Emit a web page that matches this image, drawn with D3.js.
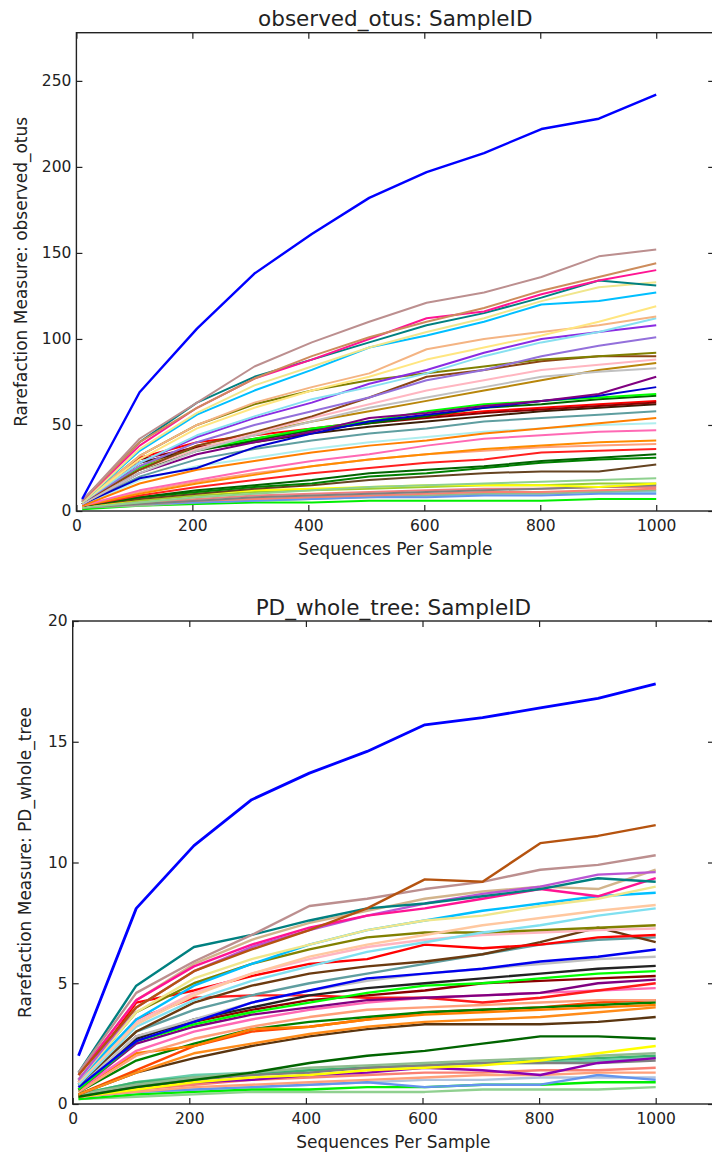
<!DOCTYPE html>
<html>
<head>
<meta charset="utf-8">
<script src="https://cdn.jsdelivr.net/npm/d3@7"></script>
<style>
  html, body { margin: 0; padding: 0; background: #fff; }
  svg { display: block; }
  text { font-family: "DejaVu Sans", sans-serif; fill: #222; }
</style>
</head>
<body>
<svg id="chart" width="712" height="1159"></svg>
<script>
// ---------- DATA ----------
const seqPerSample = [10, 109, 208, 307, 406, 505, 604, 703, 802, 901, 1000];

const otusTicksY = [0, 50, 100, 150, 200, 250];
const pdTicksY = [0, 5, 10, 15, 20];
const ticksX = [0, 200, 400, 600, 800, 1000];

const otusColors = [
  "#0000ff", "#bc8f8f", "#cd8c5c", "#ff1493", "#008080", "#f0e68c", "#00bfff", "#ffe680",
  "#f4b483", "#87e0f0", "#8a2be2", "#9370db", "#808000", "#8b4513", "#c0c0c0", "#ffb6c1",
  "#800080", "#0000cd", "#00ff00", "#006400", "#8b0000", "#ff0000", "#3b1e08", "#5f9ea0",
  "#ff7f00", "#afeeee", "#ff69b4", "#ff8c00", "#ff2020", "#ffa07a", "#006400", "#008000",
  "#654321", "#8fd18f", "#ffff00", "#808080", "#fa8072", "#6495ed", "#8fbc8f", "#00ee00",
  "#f08080", "#87ceeb", "#9acd32", "#b8860b"
];
const otusValues = [
  [7, 69, 106, 138, 161, 182, 197, 208, 222, 228, 242],
  [6, 42, 63, 84, 98, 110, 121, 127, 136, 148, 152],
  [6, 40, 60, 77, 90, 101, 110, 118, 128, 136, 144],
  [6, 38, 60, 77, 88, 100, 112, 116, 126, 134, 140],
  [6, 40, 63, 78, 88, 98, 108, 115, 124, 134, 131],
  [5, 36, 57, 73, 84, 95, 104, 112, 122, 130, 133],
  [5, 35, 56, 70, 82, 95, 102, 110, 120, 122, 127],
  [5, 30, 48, 60, 70, 78, 88, 95, 102, 110, 119],
  [5, 32, 50, 63, 72, 80, 94, 100, 104, 108, 113],
  [5, 28, 44, 55, 65, 72, 80, 90, 98, 104, 112],
  [5, 28, 43, 54, 63, 74, 82, 92, 100, 104, 108],
  [5, 26, 40, 50, 58, 66, 76, 82, 90, 96, 101],
  [5, 32, 50, 62, 70, 76, 80, 84, 88, 90, 92],
  [5, 24, 38, 46, 55, 66, 78, 82, 87, 90, 90],
  [4, 22, 35, 44, 52, 60, 66, 72, 78, 81, 83],
  [4, 24, 36, 45, 54, 62, 70, 76, 82, 85, 88],
  [4, 22, 33, 40, 46, 54, 57, 61, 64, 68, 78],
  [4, 19, 25, 37, 45, 52, 56, 60, 64, 67, 72],
  [4, 25, 36, 42, 48, 52, 58, 62, 64, 66, 68],
  [4, 24, 35, 41, 47, 51, 55, 60, 62, 65, 67],
  [4, 30, 37, 42, 47, 51, 54, 57, 59, 61, 63],
  [4, 31, 40, 44, 48, 52, 55, 58, 60, 62, 64],
  [4, 28, 36, 40, 45, 49, 52, 55, 58, 60, 62],
  [4, 20, 30, 36, 41, 45, 48, 52, 54, 56, 58],
  [3, 16, 24, 29, 34, 38, 41, 45, 48, 51, 54],
  [3, 18, 26, 31, 36, 40, 43, 46, 48, 50, 51],
  [3, 12, 18, 24, 29, 33, 38, 42, 44, 46, 47],
  [3, 10, 16, 21, 26, 30, 33, 36, 38, 40, 41],
  [3, 9, 14, 18, 22, 25, 28, 30, 34, 35, 36],
  [3, 11, 17, 22, 26, 30, 33, 35, 37, 38, 39],
  [3, 8, 12, 15, 18, 22, 24, 26, 29, 31, 33],
  [3, 8, 11, 14, 16, 20, 22, 25, 28, 30, 31],
  [3, 7, 10, 13, 15, 18, 20, 22, 23, 23, 27],
  [2, 5, 8, 10, 12, 14, 15, 16, 17, 18, 19],
  [2, 7, 10, 12, 13, 14, 15, 15, 15, 14, 16],
  [2, 4, 6, 8, 9, 10, 11, 12, 13, 14, 15],
  [2, 4, 6, 7, 8, 9, 10, 11, 11, 12, 13],
  [2, 4, 5, 6, 7, 8, 8, 9, 9, 10, 10],
  [2, 3, 5, 6, 7, 8, 9, 10, 10, 11, 12],
  [1, 3, 4, 5, 5, 6, 6, 6, 6, 7, 7],
  [2, 5, 7, 9, 10, 11, 12, 13, 13, 14, 14],
  [2, 4, 6, 7, 8, 9, 9, 10, 11, 11, 11],
  [2, 6, 9, 11, 12, 13, 14, 15, 15, 16, 16],
  [4, 26, 38, 45, 52, 58, 64, 70, 76, 82, 86]
];

const pdColors = [
  "#0000ff", "#b5530f", "#bc8f8f", "#008080", "#ff1493", "#ba55d3", "#d2b48c", "#f0e68c",
  "#00bfff", "#ffc8a0", "#80e0f0", "#808000", "#ffb6c1", "#ff0000", "#6b3a10", "#5f9ea0",
  "#0000ee", "#c0c0c0", "#222222", "#00ff00", "#8b0000", "#800080", "#ff1a1a", "#ff69b4",
  "#ffa07a", "#ff7f00", "#008000", "#ff8c1a", "#5a3510", "#ff4500", "#006400", "#ffff00",
  "#8fbc8f", "#8b00b0", "#808080", "#3cb371", "#fa8072", "#ffa07a", "#6495ed", "#00ee00",
  "#90d090", "#b0c4de", "#66cdaa"
];
const pdValues = [
  [2.0, 8.1, 10.7, 12.6, 13.7, 14.6, 15.7, 16.0, 16.4, 16.8, 17.4],
  [1.2, 4.0, 5.5, 6.4, 7.2, 8.1, 9.3, 9.2, 10.8, 11.1, 11.55],
  [1.3, 4.6, 5.9, 7.0, 8.2, 8.5, 8.9, 9.2, 9.7, 9.9, 10.3],
  [1.3, 4.9, 6.5, 7.0, 7.6, 8.1, 8.3, 8.6, 8.9, 9.35, 9.2],
  [1.2, 4.3, 5.7, 6.6, 7.3, 7.8, 8.1, 8.5, 8.9, 8.6, 9.35],
  [1.0, 4.0, 5.5, 6.5, 7.2, 7.8, 8.3, 8.7, 9.0, 9.5, 9.6],
  [1.2, 4.3, 5.8, 6.8, 7.5, 8.0, 8.5, 8.8, 9.0, 8.9, 9.7],
  [1.0, 3.8, 5.2, 6.0, 6.6, 7.2, 7.6, 7.8, 8.2, 8.5, 9.0],
  [1.0, 3.5, 4.9, 5.8, 6.6, 7.2, 7.6, 8.0, 8.3, 8.6, 8.75],
  [0.9, 3.3, 4.5, 5.4, 6.1, 6.6, 7.0, 7.4, 7.7, 8.0, 8.24],
  [0.8, 3.2, 4.3, 5.1, 5.7, 6.3, 6.7, 7.1, 7.4, 7.8, 8.1],
  [1.0, 3.8, 5.0, 5.8, 6.4, 6.9, 7.1, 7.1, 7.2, 7.3, 7.4],
  [0.9, 3.4, 4.6, 5.4, 6.0, 6.5, 6.8, 7.0, 7.1, 7.2, 7.27],
  [0.9, 4.2, 4.7, 5.3, 5.8, 6.0, 6.6, 6.45, 6.6, 6.9, 7.0],
  [0.8, 3.0, 4.2, 4.9, 5.4, 5.7, 5.9, 6.2, 6.7, 7.3, 6.7],
  [0.8, 3.0, 3.9, 4.5, 5.0, 5.4, 5.8, 6.2, 6.6, 6.8, 6.9],
  [0.7, 2.6, 3.4, 4.2, 4.7, 5.2, 5.4, 5.6, 5.9, 6.1, 6.4],
  [0.7, 2.8, 3.5, 4.2, 4.7, 5.1, 5.4, 5.6, 5.8, 6.0, 6.1],
  [0.7, 2.7, 3.5, 4.0, 4.5, 4.8, 5.0, 5.2, 5.4, 5.6, 5.72],
  [0.6, 2.6, 3.3, 3.8, 4.2, 4.6, 4.9, 5.0, 5.2, 5.4, 5.5],
  [0.6, 2.8, 3.4, 3.9, 4.3, 4.5, 4.7, 5.0, 5.1, 5.2, 5.3],
  [0.6, 2.5, 3.2, 3.7, 4.0, 4.3, 4.4, 4.5, 4.6, 5.0, 5.15],
  [0.8, 3.5, 4.4, 4.5, 4.5, 4.4, 4.4, 4.2, 4.4, 4.7, 5.0],
  [0.6, 2.2, 3.0, 3.5, 3.9, 4.2, 4.4, 4.5, 4.6, 4.7, 4.8],
  [0.5, 2.0, 2.7, 3.2, 3.6, 3.9, 4.0, 4.1, 4.2, 4.3, 4.3],
  [0.6, 2.1, 2.4, 3.1, 3.2, 3.5, 3.7, 3.8, 3.9, 4.0, 4.1],
  [0.5, 1.8, 2.5, 3.1, 3.4, 3.6, 3.8, 3.9, 4.0, 4.1, 4.2],
  [0.4, 1.3, 2.1, 2.5, 2.9, 3.2, 3.4, 3.5, 3.6, 3.8, 4.0],
  [0.4, 1.3, 1.9, 2.4, 2.8, 3.1, 3.3, 3.3, 3.3, 3.4, 3.6],
  [0.4, 1.4, 2.4, 3.0, 3.2, 3.5, 3.8, 3.9, 4.0, 4.2, 4.3],
  [0.3, 0.7, 1.0, 1.3, 1.7, 2.0, 2.2, 2.5, 2.8, 2.8, 2.7],
  [0.3, 0.6, 0.9, 1.1, 1.2, 1.4, 1.5, 1.6, 1.8, 2.1, 2.4],
  [0.4, 0.8, 1.1, 1.3, 1.5, 1.6, 1.7, 1.8, 1.9, 2.0, 2.1],
  [0.3, 0.7, 0.9, 1.0, 1.2, 1.3, 1.5, 1.4, 1.2, 1.7, 1.9],
  [0.3, 0.8, 1.0, 1.2, 1.3, 1.5, 1.6, 1.7, 1.7, 1.7, 1.8],
  [0.4, 0.9, 1.1, 1.2, 1.4, 1.5, 1.6, 1.7, 1.8, 1.9, 2.0],
  [0.3, 0.6, 0.8, 1.0, 1.1, 1.2, 1.3, 1.3, 1.4, 1.4, 1.5],
  [0.3, 0.5, 0.7, 0.8, 0.9, 1.0, 1.1, 1.2, 1.2, 1.3, 1.3],
  [0.3, 0.5, 0.6, 0.7, 0.8, 0.9, 0.7, 0.8, 0.8, 1.2, 1.0],
  [0.2, 0.4, 0.5, 0.6, 0.6, 0.7, 0.7, 0.8, 0.8, 0.9, 0.9],
  [0.2, 0.3, 0.4, 0.5, 0.5, 0.5, 0.5, 0.6, 0.6, 0.6, 0.7],
  [0.3, 0.5, 0.6, 0.7, 0.8, 0.9, 1.0, 1.0, 1.1, 1.1, 1.1],
  [0.4, 0.9, 1.2, 1.3, 1.4, 1.5, 1.6, 1.7, 1.7, 1.8, 1.9]
];

// ---------- DRAW ----------
const svg = d3.select("#chart");
svg.append("rect").attr("width", 712).attr("height", 1159).attr("fill", "#fff");

function panel(cfg) {
  const x = d3.scaleLinear().domain([0, 1100]).range([cfg.left, cfg.right]);
  const y = d3.scaleLinear().domain([0, cfg.ymax]).range([cfg.bottom, cfg.top]);
  const g = svg.append("g");
  const clipId = "clip" + cfg.id;
  g.append("clipPath").attr("id", clipId).append("rect")
    .attr("x", cfg.left).attr("y", cfg.top)
    .attr("width", cfg.right - cfg.left).attr("height", cfg.bottom - cfg.top);

  const line = d3.line().x((d, i) => x(seqPerSample[i])).y(d => y(d));
  const lines = g.append("g").attr("clip-path", `url(#${clipId})`);
  // draw others first, first series (blue) last on top
  const order = d3.range(cfg.values.length).reverse();
  order.forEach(k => {
    lines.append("path")
      .attr("d", line(cfg.values[k]))
      .attr("fill", "none")
      .attr("stroke", cfg.colors[k])
      .attr("stroke-width", k === 0 ? cfg.lw + 0.4 : cfg.lw)
      .attr("stroke-linejoin", "round");
  });

  // axes with inward ticks
  const fmt = d3.format("d");
  const axB = g.append("g").attr("transform", `translate(0,${cfg.bottom})`)
    .call(d3.axisBottom(x).tickValues(ticksX).tickSizeInner(-6).tickSizeOuter(0).tickPadding(9).tickFormat(fmt));
  const axT = g.append("g").attr("transform", `translate(0,${cfg.top})`)
    .call(d3.axisTop(x).tickValues(ticksX).tickSizeInner(-6).tickSizeOuter(0).tickFormat(""));
  const axL = g.append("g").attr("transform", `translate(${cfg.left},0)`)
    .call(d3.axisLeft(y).tickValues(cfg.yticks).tickSizeInner(-6).tickSizeOuter(0).tickPadding(5).tickFormat(fmt));
  const axR = g.append("g").attr("transform", `translate(${cfg.right},0)`)
    .call(d3.axisRight(y).tickValues(cfg.yticks).tickSizeInner(-6).tickSizeOuter(0).tickFormat(""));
  [axB, axT, axL, axR].forEach(a => {
    a.select(".domain").remove();
    a.selectAll(".tick line").attr("stroke", "#222").attr("stroke-width", 1.2);
    a.selectAll("text").attr("font-family", "DejaVu Sans").attr("font-size", "15.5px").attr("fill", "#222");
  });

  g.append("rect")
    .attr("x", cfg.left).attr("y", cfg.top)
    .attr("width", cfg.right - cfg.left).attr("height", cfg.bottom - cfg.top)
    .attr("fill", "none").attr("stroke", "#222").attr("stroke-width", 1.4);

  g.append("text").attr("x", (cfg.left + cfg.right) / 2).attr("y", cfg.titleY)
    .attr("text-anchor", "middle").attr("font-size", "21.5px").text(cfg.title);
  g.append("text").attr("x", (cfg.left + cfg.right) / 2).attr("y", cfg.xlabelY)
    .attr("text-anchor", "middle").attr("font-size", "17px").text("Sequences Per Sample");
  g.append("text")
    .attr("transform", `translate(${cfg.ylabelX},${(cfg.top + cfg.bottom) / 2}) rotate(-90)`)
    .attr("text-anchor", "middle").attr("font-size", "17px").text(cfg.ylabel);
}

panel({
  id: 1, left: 76.4, right: 714.2, top: 32.7, bottom: 511, ymax: 278,
  yticks: otusTicksY, values: otusValues, colors: otusColors, lw: 2,
  title: "observed_otus: SampleID", titleY: 26, xlabelY: 555, ylabelX: 27,
  ylabel: "Rarefaction Measure: observed_otus"
});
panel({
  id: 2, left: 72.7, right: 714, top: 621, bottom: 1104, ymax: 20,
  yticks: pdTicksY, values: pdValues, colors: pdColors, lw: 2.4,
  title: "PD_whole_tree: SampleID", titleY: 615, xlabelY: 1148, ylabelX: 31,
  ylabel: "Rarefaction Measure: PD_whole_tree"
});
</script>
</body>
</html>
